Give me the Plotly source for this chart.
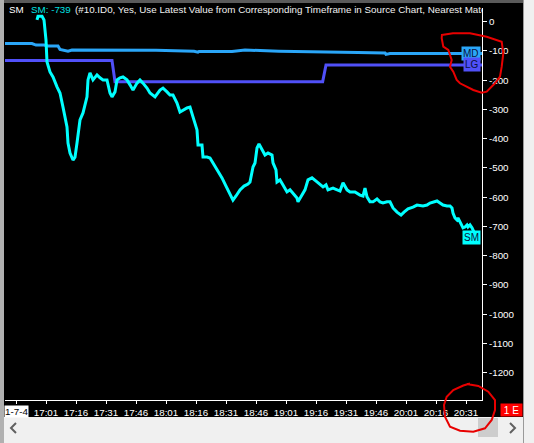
import plotly.graph_objects as go

DAY = "2021-07-04 "

# ---------------- data ----------------
sm_times = ["16:56:30", "16:57:00", "16:59:00", "17:00:00", "17:01:00", "17:01:30", "17:03:00", "17:04:30",
            "17:06:30", "17:08:00", "17:09:30", "17:11:30", "17:12:00", "17:13:00", "17:14:30", "17:15:30",
            "17:16:30", "17:18:00", "17:19:30", "17:21:30", "17:22:00", "17:23:00", "17:24:30", "17:26:30",
            "17:28:00", "17:29:30", "17:31:30", "17:33:00", "17:34:00", "17:35:30", "17:36:30", "17:38:00",
            "17:39:30", "17:41:30", "17:43:00", "17:44:30", "17:46:30", "17:48:00", "17:49:30", "17:51:30",
            "17:53:00", "17:55:30", "17:58:00", "17:59:30", "18:01:30", "18:03:00", "18:04:30", "18:06:30",
            "18:08:00", "18:09:30", "18:11:30", "18:13:00", "18:14:30", "18:16:30", "18:17:00", "18:19:00",
            "18:19:30", "18:21:30", "18:23:00", "18:24:30", "18:26:30", "18:29:00", "18:31:00", "18:33:00",
            "18:34:30", "18:36:00", "18:38:00", "18:40:00", "18:42:00", "18:43:00", "18:44:30", "18:45:30",
            "18:46:30", "18:47:30", "18:49:00", "18:50:30", "18:52:00", "18:54:00", "18:54:30", "18:56:00",
            "18:56:30", "18:58:00", "18:59:30", "19:01:30", "19:03:00", "19:04:30", "19:06:30", "19:07:00",
            "19:09:00", "19:10:30", "19:12:00", "19:14:00", "19:16:30", "19:18:00", "19:19:30", "19:21:00",
            "19:22:00", "19:24:30", "19:26:30", "19:28:00", "19:29:30", "19:31:30", "19:33:00", "19:35:30",
            "19:38:00", "19:39:30", "19:40:30", "19:41:30", "19:43:00", "19:44:30", "19:46:30", "19:48:00",
            "19:49:30", "19:51:30", "19:53:00", "19:54:30", "19:56:30", "19:58:30", "20:00:00", "20:02:00",
            "20:04:30", "20:06:30", "20:09:30", "20:11:30", "20:13:00", "20:14:30", "20:16:30", "20:18:00",
            "20:19:30", "20:21:30", "20:23:00", "20:24:00", "20:24:30", "20:25:30", "20:26:30", "20:27:00",
            "20:28:00", "20:29:00", "20:29:30", "20:30:30", "20:31:30", "20:32:00", "20:33:00", "20:34:00",
            "20:35:00", "20:36:00"]
sm_values = [6, 19, 19, 6, -63, -138, -172, -189,
             -223, -244, -292, -360, -415, -449, -473, -463,
             -415, -336, -312, -257, -199, -175, -199, -182,
             -192, -199, -199, -244, -257, -240, -199, -192,
             -189, -199, -216, -234, -210, -199, -210, -227,
             -244, -257, -234, -227, -240, -251, -251, -278,
             -309, -302, -295, -292, -326, -370, -422, -422,
             -463, -463, -466, -483, -507, -534, -562, -589,
             -610, -596, -575, -562, -555, -548, -497, -483,
             -432, -418, -439, -456, -449, -456, -483, -507,
             -548, -541, -558, -582, -575, -586, -603, -616,
             -593, -575, -541, -534, -548, -558, -565, -558,
             -575, -569, -575, -579, -551, -575, -582, -582,
             -593, -596, -569, -599, -616, -616, -606, -616,
             -620, -616, -616, -637, -651, -661, -651, -640,
             -634, -627, -630, -627, -620, -616, -613, -620,
             -627, -630, -630, -637, -654, -671, -678, -671,
             -685, -695, -705, -702, -695, -702, -695, -705,
             -719, -739]

md_times = ["16:40:30", "16:54:00", "16:56:00", "17:00:00", "17:02:00", "17:07:00", "17:08:00", "17:12:00",
            "17:14:00", "17:29:00", "17:56:00", "18:15:00", "18:17:00", "18:17:30", "18:34:00", "18:40:30",
            "18:57:30", "19:37:00", "19:50:30", "19:51:00", "19:53:00", "20:21:00", "20:39:00"]
md_values = [-75, -75, -80, -80, -83, -83, -95, -101,
             -97, -97, -98, -101, -104, -102, -102, -97,
             -101, -105, -107, -112, -109, -109, -109]

lg_times = ["16:40:30", "17:34:00", "17:35:30", "19:19:20", "19:21:00", "20:39:00"]
lg_values = [-133, -133, -205, -205, -148, -148]

x_tick_times = ["16:46", "17:01", "17:16", "17:31", "17:46", "18:01", "18:16", "18:31",
                "18:46", "19:01", "19:16", "19:31", "19:46", "20:01", "20:16", "20:31"]
x_tick_labels = [" ", "17:01", "17:16", "17:31", "17:46", "18:01", "18:16", "18:31",
                 "18:46", "19:01", "19:16", "19:31", "19:46", "20:01", "20:16", "20:31"]
y_tick_values = [0, -100, -200, -300, -400, -500, -600, -700, -800, -900, -1000, -1100, -1200]
y_tick_labels = ["0", "-100", "-200", "-300", "-400", "-500", "-600", "-700", "-800", "-900",
                 "-1000", "-1100", "-1200"]

series_names = ["MD", "LG", "SM"]
last_value_text = "SM: -739"
title_rest = "(#10.ID0, Yes, Use Latest Value from Corresponding Timeframe in Source Chart, Nearest Matching Time"
date_label = "1-7-4"
status_label = "1 E"

# ---------------- styling / layout ----------------
W, H = 534, 443
L, R, T, B = 5, 482, 8, 400  # plot area in pixels

def PX(x):
    return (x - L) / (R - L)

def PY(y):
    return (B - y) / (B - T)

FONT = "Liberation Sans"
FS = 9.8
C_SM = "#00FFFF"
C_MD = "#2AA6F8"
C_LG = "#5050F8"

fig = go.Figure()
fig.add_trace(go.Scatter(x=[DAY + t for t in md_times], y=md_values, mode="lines",
                         line=dict(color=C_MD, width=3), name=series_names[0], hoverinfo="skip"))
fig.add_trace(go.Scatter(x=[DAY + t for t in lg_times], y=lg_values, mode="lines",
                         line=dict(color=C_LG, width=3), name=series_names[1], hoverinfo="skip"))
fig.add_trace(go.Scatter(x=[DAY + t for t in sm_times], y=sm_values, mode="lines",
                         line=dict(color=C_SM, width=3), name=series_names[2], hoverinfo="skip"))

shapes = []
def rect(x0, y0, x1, y1, color, layer="above"):
    shapes.append(dict(type="rect", xref="paper", yref="paper", x0=PX(x0), x1=PX(x1),
                       y0=PY(y1), y1=PY(y0), fillcolor=color, line=dict(width=0), layer=layer))

def path(points, color, width, closed=False):
    d = "M " + " L ".join(f"{PX(x):.5f},{PY(y):.5f}" for x, y in points)
    if closed:
        d += " Z"
    shapes.append(dict(type="path", xref="paper", yref="paper", path=d,
                       line=dict(color=color, width=width), layer="above"))

# window frame pieces
rect(0, 0, 534, 3, "#5A5A5A")
rect(0, 0, 4, 443, "#B0B0B0")
rect(523, 0, 534, 443, "#F0F0F0")
rect(523, 0, 524, 443, "#9A9A9A")
rect(4, 417, 523, 443, "#F0F0F0")
rect(478, 418, 498, 437, "#CDCDCD")
path([(16, 423), (11, 428), (16, 433)], "#606060", 2)
path([(510, 423), (515, 428), (510, 433)], "#606060", 2)

# hand-drawn red circles
path([(441.7, 35), (453, 33.3), (470, 33.3), (486.7, 36.7), (501.7, 41.7), (503.3, 53.3),
      (501.7, 66.7), (500, 76.7), (495, 83.3), (486.7, 91.7), (481.7, 92.7), (473.3, 90),
      (460, 83.3), (456.7, 80), (453.3, 71.7), (450, 66.7), (451.7, 60), (448.3, 50),
      (443.3, 46.7), (441.7, 38.3), (442, 34)], "#E80000", 2)
path([(466.7, 384), (478.3, 386), (488.3, 391.7), (495, 400), (495, 410), (491.7, 420),
      (485, 428.3), (473.3, 431.7), (460, 430.7), (450, 426.7), (445, 416.7), (444, 405),
      (446.7, 396.7), (453.3, 390), (463.3, 385.5), (470, 383.5)], "#E80000", 2)

annotations = []
def text(x, y, s, color, size=FS, anchor="left", **kw):
    annotations.append(dict(x=PX(x), y=PY(y), xref="paper", yref="paper", text=s, showarrow=False,
                            xanchor=anchor, yanchor="middle",
                            font=dict(family=FONT, size=size, color=color), **kw))

text(7, 10, series_names[2], "#FFFFFF")
text(29, 10, last_value_text, "#00E0E0")
text(73, 10, title_rest, "#F0F0F0", width=407, align="left")
text(16, 411, date_label, "#000000", anchor="center", bgcolor="#FFFFFF", borderpad=0)
text(511, 409.5, status_label, "#FFFFFF", size=10, anchor="center", bgcolor="#FF0000",
     width=21, height=12, borderpad=0)

for name, vals, col in [(series_names[0], md_values, C_MD), (series_names[1], lg_values, C_LG),
                        (series_names[2], sm_values, C_SM)]:
    annotations.append(dict(x=1, xref="paper", y=vals[-1], yref="y", text=name, showarrow=False,
                            xanchor="right", yanchor="middle", xshift=-1,
                            bgcolor=col, borderpad=1, height=11,
                            font=dict(family=FONT, size=10, color="#0A1240")))

fig.update_layout(
    width=W, height=H,
    margin=dict(l=L, r=W - R, t=T, b=H - B, pad=0),
    paper_bgcolor="#000000", plot_bgcolor="#000000",
    showlegend=False,
    font=dict(family=FONT, size=FS, color="#FFFFFF"),
    xaxis=dict(type="date", range=[DAY + "16:40:30", DAY + "20:39:00"],
               tickvals=[DAY + t for t in x_tick_times], ticktext=x_tick_labels,
               showgrid=False, zeroline=False, showline=True, linecolor="#FFFFFF", linewidth=1,
               ticks="outside", ticklen=3, tickcolor="#FFFFFF", tickfont=dict(size=FS, color="#FFFFFF"),
               fixedrange=True),
    yaxis=dict(side="right", range=[-1293.5, 46.8], tickvals=y_tick_values, ticktext=y_tick_labels,
               showgrid=False, zeroline=False, showline=True, linecolor="#FFFFFF", linewidth=1,
               ticks="outside", ticklen=4, tickcolor="#FFFFFF", tickfont=dict(size=FS, color="#FFFFFF"),
               fixedrange=True),
    shapes=shapes,
    annotations=annotations,
)

fig.write_html("out.html", config={"displayModeBar": False},
               post_script="document.body.style.margin='0';document.body.style.overflow='hidden';")
